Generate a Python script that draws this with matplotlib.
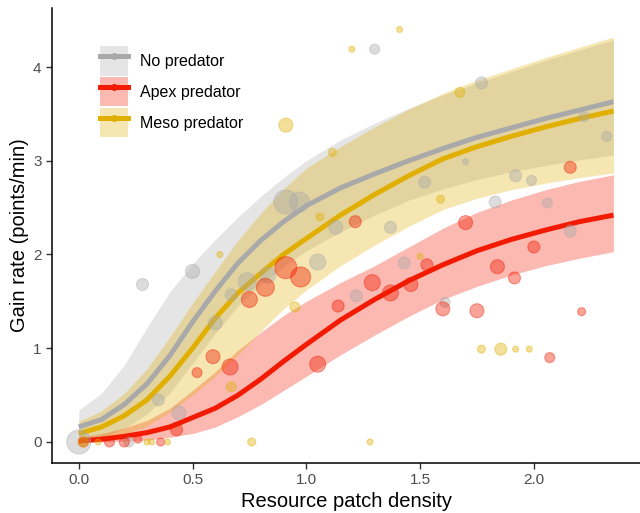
import matplotlib
matplotlib.use("Agg")
import matplotlib.pyplot as plt
from matplotlib.patches import Patch
from matplotlib.lines import Line2D
import numpy as np

plt.rcParams['font.family'] = ['Liberation Sans', 'DejaVu Sans']

# fitted curves and confidence bands on a shared grid
curve_x = [0.0, 0.1, 0.2, 0.3, 0.4, 0.5, 0.6, 0.7, 0.8, 0.9, 1.0,
           1.15, 1.3, 1.45, 1.6, 1.75, 1.9, 2.05, 2.2, 2.35]

none_fit = [0.16, 0.24, 0.40, 0.62, 0.92, 1.28, 1.61, 1.91, 2.15, 2.35, 2.52,
            2.71, 2.86, 3.00, 3.13, 3.25, 3.35, 3.45, 3.54, 3.63]
none_lo = [0.0, 0.05, 0.14, 0.30, 0.52, 0.84, 1.16, 1.45, 1.68, 1.87, 2.04,
           2.24, 2.42, 2.58, 2.70, 2.80, 2.88, 2.95, 3.01, 3.06]
none_hi = [0.34, 0.52, 0.82, 1.22, 1.60, 1.90, 2.16, 2.40, 2.62, 2.82, 3.00,
           3.22, 3.40, 3.56, 3.70, 3.83, 3.95, 4.07, 4.18, 4.29]

apex_fit = [0.01, 0.03, 0.06, 0.10, 0.16, 0.26, 0.36, 0.50, 0.67, 0.86, 1.04,
            1.30, 1.52, 1.72, 1.89, 2.04, 2.16, 2.26, 2.35, 2.42]
apex_lo = [0.0, 0.0, 0.01, 0.02, 0.05, 0.09, 0.16, 0.27, 0.40, 0.55, 0.70,
           0.93, 1.14, 1.34, 1.52, 1.66, 1.78, 1.88, 1.96, 2.03]
apex_hi = [0.05, 0.09, 0.15, 0.23, 0.36, 0.55, 0.75, 0.98, 1.17, 1.35, 1.50,
           1.70, 1.88, 2.08, 2.28, 2.45, 2.58, 2.69, 2.78, 2.85]

meso_fit = [0.09, 0.16, 0.28, 0.45, 0.70, 1.00, 1.32, 1.59, 1.80, 2.00, 2.17,
            2.42, 2.64, 2.84, 3.02, 3.15, 3.26, 3.36, 3.45, 3.53]
meso_lo = [0.0, 0.03, 0.08, 0.17, 0.32, 0.50, 0.70, 0.93, 1.18, 1.42, 1.62,
           1.88, 2.10, 2.30, 2.48, 2.60, 2.69, 2.76, 2.82, 2.87]
meso_hi = [0.22, 0.33, 0.52, 0.78, 1.12, 1.48, 1.82, 2.15, 2.44, 2.70, 2.92,
           3.15, 3.36, 3.55, 3.72, 3.86, 3.98, 4.10, 4.21, 4.32]

# observed points: x, y, point size
none_px = [0.0, 0.22, 0.28, 0.35, 0.44, 0.50, 0.60, 0.67, 0.74, 0.83, 0.91, 0.97, 1.05, 1.13,
           1.22, 1.30, 1.37, 1.43, 1.52, 1.61, 1.70, 1.77, 1.83, 1.92, 1.99, 2.06, 2.16, 2.22, 2.32]
none_py = [0.0, 0.0, 1.68, 0.45, 0.31, 1.82, 1.27, 1.57, 1.71, 1.78, 2.56, 2.56, 1.92, 2.29,
           1.56, 4.19, 2.29, 1.91, 2.77, 1.49, 2.99, 3.83, 2.56, 2.84, 2.79, 2.55, 2.25, 3.47, 3.26]
none_n = [12, 5, 6, 6, 7, 7, 7, 6, 9, 8, 12, 10, 8, 7,
          6, 5, 6, 6, 6, 5, 3, 6, 6, 6, 5, 5, 6, 5, 5]

apex_px = [0.02, 0.135, 0.20, 0.26, 0.36, 0.43, 0.52, 0.59, 0.665, 0.75, 0.82, 0.91, 0.975, 1.05,
           1.14, 1.215, 1.29, 1.37, 1.46, 1.53, 1.60, 1.70, 1.75, 1.84, 1.915, 2.0, 2.07, 2.16, 2.21]
apex_py = [0.0, 0.0, 0.0, 0.03, 0.0, 0.13, 0.74, 0.91, 0.80, 1.52, 1.65, 1.86, 1.76, 0.83,
           1.45, 2.35, 1.70, 1.59, 1.68, 1.89, 1.42, 2.34, 1.40, 1.87, 1.75, 2.08, 0.90, 2.93, 1.39]
apex_n = [5, 5, 5, 4, 4, 6, 5, 7, 8, 8, 9, 11, 10, 8,
          6, 6, 8, 8, 7, 6, 7, 7, 7, 7, 6, 6, 5, 6, 4]

meso_px = [0.02, 0.085, 0.30, 0.32, 0.39, 0.62, 0.67, 0.76, 0.91, 0.95, 1.06, 1.115, 1.20, 1.28,
           1.41, 1.50, 1.59, 1.675, 1.77, 1.855, 1.92, 1.98]
meso_py = [0.0, 0.0, 0.0, 0.0, 0.0, 2.0, 0.59, 0.0, 3.38, 1.44, 2.40, 3.09, 4.19, 0.0,
           4.40, 1.98, 2.59, 3.73, 0.99, 0.99, 0.99, 0.99]
meso_n = [5, 3, 3, 3, 3, 3, 5, 4, 7, 5, 4, 4, 3, 3,
          3, 3, 4, 5, 4, 6, 3, 3]

labels = ['No predator', 'Apex predator', 'Meso predator']
colors = ['#A9A9A9', '#F21A00', '#E1AF00']

fig = plt.figure(figsize=(6.4, 5.13), dpi=100)
ax = fig.add_axes([0.0813, 0.0975, 0.919, 0.887])

groups = [
    (none_fit, none_lo, none_hi, none_px, none_py, none_n),
    (apex_fit, apex_lo, apex_hi, apex_px, apex_py, apex_n),
    (meso_fit, meso_lo, meso_hi, meso_px, meso_py, meso_n),
]

# bands first, then fitted lines, then the raw points on top
for (fit, lo, hi, px, py, n), col in zip(groups, colors):
    ax.fill_between(curve_x, lo, hi, color=col, alpha=0.3, linewidth=0, zorder=1)

for (fit, lo, hi, px, py, n), col in zip(groups, colors):
    ax.plot(curve_x, fit, color=col, lw=3.6, solid_capstyle='butt',
            solid_joinstyle='round', zorder=2)

for (fit, lo, hi, px, py, n), col in zip(groups, colors):
    s = (2 * np.array(n) * 0.72) ** 2
    ax.scatter(px, py, s=s, facecolor=col, edgecolor=col, alpha=0.4,
               linewidth=0.8, zorder=3)

ax.set_xlim(-0.1175, 2.4675)
ax.set_ylim(-0.224, 4.63)
ax.set_xticks([0.0, 0.5, 1.0, 1.5, 2.0])
ax.set_xticklabels(['0.0', '0.5', '1.0', '1.5', '2.0'])
ax.set_yticks([0, 1, 2, 3, 4])
ax.tick_params(axis='both', labelsize=11, labelcolor='#4D4D4D', color='#333333',
               length=4, width=1)
for side in ['top', 'right']:
    ax.spines[side].set_visible(False)
for side in ['left', 'bottom']:
    ax.spines[side].set_linewidth(1.1)
    ax.spines[side].set_color('black')

ax.set_xlabel('Resource patch density', fontsize=14.5, labelpad=3)
ax.set_ylabel('Gain rate (points/min)', fontsize=14.5, labelpad=3)

handles = []
for col in colors:
    handles.append((Patch(facecolor=col, alpha=0.3, edgecolor='none'),
                    Line2D([], [], color=col, lw=3.6, marker='o', markersize=4)))
ax.legend(handles, labels, loc='upper left', bbox_to_anchor=(0.082, 0.916),
          frameon=False, fontsize=11.5, handlelength=1.75, handleheight=2.45,
          labelspacing=0.1, borderpad=0, borderaxespad=0, handletextpad=0.75)

fig.savefig('out.png', dpi=100)
